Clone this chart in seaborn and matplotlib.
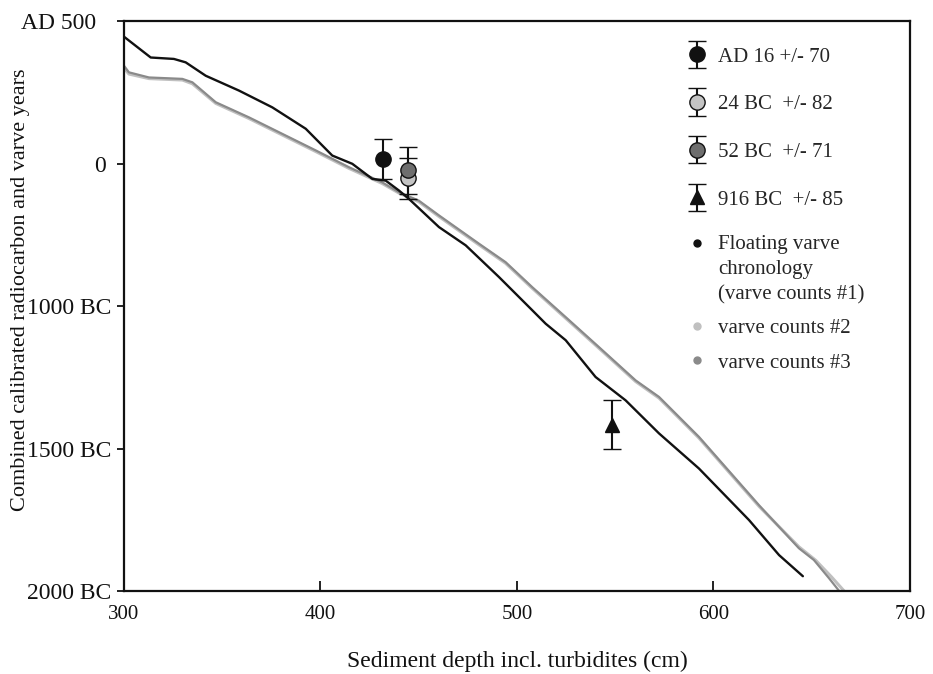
import matplotlib
matplotlib.use("Agg")
import numpy as np
import matplotlib.pyplot as plt
import matplotlib.transforms as mtransforms
import seaborn as sns
import pandas as pd
from matplotlib.lines import Line2D
from matplotlib.container import ErrorbarContainer
from matplotlib.legend_handler import HandlerErrorbar, HandlerLine2D

# ---- data ----
depth_c1 = [300, 313.6, 325.4, 331.4, 341.6, 358.5, 375.5, 392.5, 406, 416.2, 426.4, 433.2,
            440, 445, 460.3, 473.9, 490.8, 507.8, 514.6, 524.8, 540, 555.3, 572.3, 592.6,
            618.1, 633.4, 645.5]
years_c1 = [445, 372, 367, 355, 308, 256, 197, 122, 28, -1, -54, -60,
            -95, -124, -223, -287, -398, -515, -562, -620, -749, -831, -947, -1070,
            -1251, -1374, -1448]

depth_c2 = [300, 302.5, 312.7, 329.7, 334.8, 346.7, 363.6, 380.6, 397.6, 414.5, 431.4, 440,
            450, 460.3, 480.6, 494.2, 507.8, 524.8, 541.7, 560.4, 572.3, 592.6, 623.2, 643.5,
            652, 660, 666.5]
years_c2 = [335, 314, 298, 293, 280, 211, 158, 100, 42, -17, -70, -104,
            -134, -186, -285, -350, -438, -543, -648, -765, -823, -963, -1203, -1345,
            -1392, -1450, -1500]

depth_c3 = [300, 302.5, 312.7, 329.7, 334.8, 346.7, 363.6, 380.6, 397.6, 414.5, 431.4, 440,
            450, 460.3, 480.6, 494.2, 507.8, 524.8, 541.7, 560.4, 572.3, 592.6, 623.2, 643.5,
            651.1, 658.8, 664]
years_c3 = [343, 320, 302, 297, 285, 215, 162, 104, 46, -13, -66, -101,
            -130, -182, -281, -346, -434, -539, -644, -761, -819, -959, -1199, -1350,
            -1391, -1455, -1500]

date_labels = ["AD 16 +/- 70", "24 BC  +/- 82", "52 BC  +/- 71", "916 BC  +/- 85"]
date_depth = [431.8, 444.7, 444.7, 548.2]
date_year = [16, -24, -52, -916]
date_err = [70, 82, 71, 85]
# marker colours as drawn in the chart (24 BC point dark grey, 52 BC point light grey)
plot_face = ["#111111", "#6e6e6e", "#c4c4c4", "#111111"]
markers = ["o", "o", "o", "^"]

curve_labels = ["Floating varve\nchronology\n(varve counts #1)", "varve counts #2", "varve counts #3"]
curve_colors = ["#111111", "#c0c0c0", "#8a8a8a"]

ytick_vals = [500, 0, -500, -1000, -1500]
ytick_labels = ["AD 500", "0", "1000 BC", "1500 BC", "2000 BC"]
xtick_vals = [300, 400, 500, 600, 700]

# ---- plot ----
sns.set_theme(style="white")
plt.rcParams["font.family"] = ["Liberation Serif", "DejaVu Serif"]

fig = plt.figure(figsize=(9.33, 6.74), dpi=100)
ax = fig.add_axes([0.1329, 0.1231, 0.9753 - 0.1329, 0.9688 - 0.1231])

df1 = pd.DataFrame({"depth": depth_c1, "year": years_c1})
df2 = pd.DataFrame({"depth": depth_c2, "year": years_c2})
df3 = pd.DataFrame({"depth": depth_c3, "year": years_c3})
sns.lineplot(data=df2, x="depth", y="year", sort=False, color=curve_colors[1], lw=2.2, ax=ax)
sns.lineplot(data=df3, x="depth", y="year", sort=False, color=curve_colors[2], lw=1.6, ax=ax)
sns.lineplot(data=df1, x="depth", y="year", sort=False, color=curve_colors[0], lw=1.7, ax=ax)

containers = {}
for i in [0, 2, 1, 3]:
    containers[i] = ax.errorbar(date_depth[i], date_year[i], yerr=date_err[i], fmt=markers[i],
                                mfc=plot_face[i], mec="#111111", mew=1.0,
                                ms=11 if markers[i] == "o" else 10,
                                ecolor="#111111", elinewidth=1.5, capsize=6.5, capthick=1.5,
                                zorder=5)

ax.set_xlim(300, 700)
ax.set_ylim(-1500, 500)
ax.set_xticks(xtick_vals)
ax.set_xticklabels([str(v) for v in xtick_vals])
ax.set_yticks(ytick_vals)
ax.set_yticklabels(ytick_labels)
ax.tick_params(axis="x", direction="in", length=7, width=1.3, labelsize=15, pad=10, colors="#111111")
ax.tick_params(axis="y", direction="out", length=5, width=1.3, labelsize=17, pad=4, colors="#111111")
ax.tick_params(axis="both", left=True, bottom=True)
for s in ax.spines.values():
    s.set_visible(True)
    s.set_color("#111111")
    s.set_linewidth(1.6)

# the top two y labels sit a little further left in the original
ticks = ax.yaxis.get_major_ticks()
for k, dx in [(0, -15), (1, -6)]:
    lab = ticks[k].label1
    lab.set_transform(lab.get_transform() +
                      mtransforms.ScaledTranslation(dx / 100, 0, fig.dpi_scale_trans))

ax.set_xlabel("Sediment depth incl. turbidites (cm)", fontsize=17, color="#111111")
ax.xaxis.set_label_coords(0.5, -0.105)
ax.set_ylabel("Combined calibrated radiocarbon and varve years", fontsize=16, color="#111111")
ax.yaxis.set_label_coords(-0.119, 0.528)

# legend 1: radiocarbon dates (legend colours: 24 BC light grey, 52 BC dark grey)
h1 = [containers[0], containers[2], containers[1], containers[3]]
leg1 = ax.legend(h1, date_labels, loc="upper left", bbox_to_anchor=(0.703, 0.969),
                 frameon=False, fontsize=15, labelspacing=1.35, handlelength=1.2,
                 handletextpad=0.4, borderaxespad=0,
                 handler_map={ErrorbarContainer: HandlerErrorbar(yerr_size=0.65)})
ax.add_artist(leg1)


class HandlerUp(HandlerLine2D):
    def __init__(self, shift, **kw):
        super().__init__(**kw)
        self.shift = shift

    def create_artists(self, legend, orig_handle, xdescent, ydescent, width, height,
                       fontsize, trans):
        arts = super().create_artists(legend, orig_handle, xdescent, ydescent, width,
                                      height, fontsize, trans)
        for a in arts:
            a.set_ydata(np.asarray(a.get_ydata()) + self.shift)
        return arts


h2 = [Line2D([], [], ls="none", marker="o", ms=5, mfc=c, mec=c) for c in curve_colors]
leg2 = ax.legend(h2, curve_labels, loc="upper left", bbox_to_anchor=(0.703, 0.639),
                 frameon=False, fontsize=15, labelspacing=0.7, handlelength=1.2,
                 handletextpad=0.4, borderaxespad=0,
                 handler_map={h2[0]: HandlerUp(19)})
for t in leg2.get_texts():
    t.set_linespacing(1.42)

fig.savefig("out.png", dpi=100)
